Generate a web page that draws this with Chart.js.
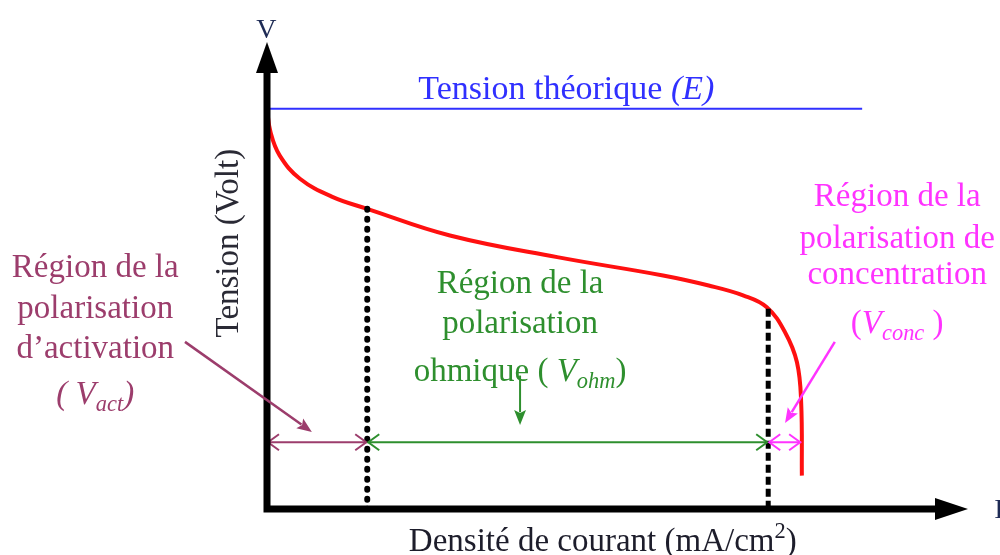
<!DOCTYPE html>
<html><head><meta charset="utf-8">
<script src="https://cdn.jsdelivr.net/npm/chart.js@4.4.1/dist/chart.umd.min.js"></script>
<style>html,body{margin:0;padding:0;background:#fff;}#wrap{width:1000px;height:555px;}</style>
</head><body><div id="wrap"><canvas id="c" width="1000" height="555"></canvas></div>
<script>
// ---- data (current density in arbitrary units, voltage in V) ----
const currentDensity = [0, 0.5, 1.8, 4.7, 9.4, 14.3, 26.1, 41.4, 56.5, 63.0, 68.0, 71.3, 73.9, 75.6, 76.2, 76.3];
const cellVoltage    = [1.20, 1.13, 1.06, 0.99, 0.935, 0.90, 0.82, 0.755, 0.70, 0.67, 0.64, 0.605, 0.53, 0.44, 0.32, 0.10];
const theoreticalVoltage = 1.2;
const theoreticalLineEnd = 84.9;
const regionBoundaries = [0, 14.3, 71.5, 76.2];
const boundaryVoltages = [0.90, 0.60];
const regionArrowLevel = 0.2;
const axisMax = [100, 1.4];

// ---- texts ----
const yAxisSymbol = 'V';
const xAxisSymbol = 'I';
const yAxisTitle = 'Tension (Volt)';
const xAxisTitle = [{t:'Densité de courant (mA/cm'},{t:'2',sup:true},{t:')'}];
const theoryLabel = [{t:'Tension théorique '},{t:'(E)',it:true}];
const actLabel = [[{t:'Région de la'}],[{t:'polarisation'}],[{t:'d’activation'}],[{t:'( ',it:true},{t:'V',it:true},{t:'act',it:true,sub:true},{t:')',it:true}]];
const ohmLabel = [[{t:'Région de la'}],[{t:'polarisation'}],[{t:'ohmique '},{t:'( '},{t:'V',it:true},{t:'ohm',it:true,sub:true},{t:')'}]];
const concLabel = [[{t:'Région de la'}],[{t:'polarisation de'}],[{t:'concentration'}],[{t:'('},{t:'V',it:true},{t:'conc',it:true,sub:true},{t:' )'}]];

const COL = {red:'#ff1010', blue:'#3030ff', act:'#9c3d6c', ohm:'#2e8f2e', conc:'#ff33ff', ink:'#1d1d2b'};
const FONT = '"Liberation Serif", "Times New Roman", serif';
const FS = 33;

function fontFor(s, size){
  const sz = (s.sub||s.sup) ? size*0.68 : size;
  return (s.it?'italic ':'') + sz + 'px ' + FONT;
}
function drawRich(ctx, segs, cx, cy, color, size){
  const w = segs.map(s=>{ctx.font=fontFor(s,size);return ctx.measureText(s.t).width;});
  let x = cx - w.reduce((a,b)=>a+b,0)/2;
  ctx.fillStyle = color; ctx.textBaseline='alphabetic'; ctx.textAlign='left';
  const base = cy + size*0.33;
  segs.forEach((s,i)=>{ctx.font=fontFor(s,size);const dy=s.sub?size*0.22:(s.sup?-size*0.4:0);ctx.fillText(s.t,x,base+dy);x+=w[i];});
}
function arrowLine(ctx,x1,y1,x2,y2,color,w,head){
  ctx.strokeStyle=color;ctx.fillStyle=color;ctx.lineWidth=w;
  const a=Math.atan2(y2-y1,x2-x1);
  ctx.beginPath();ctx.moveTo(x1,y1);ctx.lineTo(x2-Math.cos(a)*head*0.8,y2-Math.sin(a)*head*0.8);ctx.stroke();
  ctx.beginPath();ctx.moveTo(x2,y2);
  ctx.lineTo(x2-head*Math.cos(a-0.38),y2-head*Math.sin(a-0.38));
  ctx.lineTo(x2-head*0.75*Math.cos(a),y2-head*0.75*Math.sin(a));
  ctx.lineTo(x2-head*Math.cos(a+0.38),y2-head*Math.sin(a+0.38));
  ctx.closePath();ctx.fill();
}
function openHead(ctx,x,y,dir,color){
  ctx.strokeStyle=color;ctx.lineWidth=2;
  ctx.beginPath();ctx.moveTo(x+dir*11,y-8);ctx.lineTo(x,y);ctx.lineTo(x+dir*11,y+8);ctx.stroke();
}

const schema = {
  id:'schema',
  afterDatasetsDraw(chart){
    const {ctx, scales:{x,y}} = chart;
    const X=v=>x.getPixelForValue(v), Y=v=>y.getPixelForValue(v);
    ctx.save();
    const cols=[COL.act,COL.ohm,COL.conc];
    for(let k=0;k<3;k++){
      const yy=Y(regionArrowLevel);
      openHead(ctx,X(regionBoundaries[k])+1,yy,1,cols[k]);
      openHead(ctx,X(regionBoundaries[k+1])-1,yy,-1,cols[k]);
    }
    const x0=X(0), y0=Y(0), yTop=Y(axisMax[1]), xEnd=X(axisMax[0]);
    ctx.strokeStyle='#000';ctx.fillStyle='#000';ctx.lineWidth=7;ctx.lineJoin='miter';
    ctx.beginPath();ctx.moveTo(x0,yTop+28);ctx.lineTo(x0,y0);ctx.lineTo(xEnd-30,y0);ctx.stroke();
    ctx.beginPath();ctx.moveTo(x0,yTop);ctx.lineTo(x0-11,yTop+31);ctx.lineTo(x0+11,yTop+31);ctx.closePath();ctx.fill();
    ctx.beginPath();ctx.moveTo(xEnd,y0);ctx.lineTo(xEnd-33,y0-11);ctx.lineTo(xEnd-33,y0+11);ctx.closePath();ctx.fill();
    drawRich(ctx,[{t:yAxisSymbol}],X(-0.1),Y(1.44),'#1e2b55',28);
    drawRich(ctx,[{t:xAxisSymbol}],X(104.4),Y(0.0),'#1e2b55',28);
    drawRich(ctx,xAxisTitle,X(47.9),Y(-0.093),COL.ink,FS);
    ctx.save();ctx.translate(X(-5.7),Y(0.797));ctx.rotate(-Math.PI/2);
    drawRich(ctx,[{t:yAxisTitle}],0,0,'#2a2a35',FS);ctx.restore();
    drawRich(ctx,theoryLabel,X(42.7),Y(1.262),COL.blue,34);
    const actY=[0.728,0.606,0.486,0.348];
    actLabel.forEach((l,i)=>drawRich(ctx,l,X(-24.5),Y(actY[i]),COL.act,FS));
    const ohmY=[0.680,0.561,0.417];
    ohmLabel.forEach((l,i)=>drawRich(ctx,l,X(36.1),Y(ohmY[i]),COL.ohm,FS));
    const concY=[0.941,0.815,0.707,0.561];
    concLabel.forEach((l,i)=>drawRich(ctx,l,X(89.9),Y(concY[i]),COL.conc,FS));
    arrowLine(ctx,X(-11.7),Y(0.501),X(6.4),Y(0.231),COL.act,2.5,16);
    arrowLine(ctx,X(36.1),Y(0.40),X(36.1),Y(0.252),COL.ohm,2,16);
    arrowLine(ctx,X(81.0),Y(0.501),X(73.9),Y(0.258),COL.conc,2.5,16);
    ctx.restore();
  }
};

const curve = currentDensity.map((v,i)=>({x:v,y:cellVoltage[i]}));
const seg = (a,b)=>[{x:a[0],y:a[1]},{x:b[0],y:b[1]}];
const regionCols=[COL.act,COL.ohm,COL.conc];

new Chart(document.getElementById('c'),{
  type:'scatter',
  data:{datasets:[
    {data:seg([0,theoreticalVoltage],[theoreticalLineEnd,theoreticalVoltage]),showLine:true,borderColor:COL.blue,borderWidth:2,pointRadius:0,clip:false},
    {data:seg([regionBoundaries[1],boundaryVoltages[0]],[regionBoundaries[1],0]),showLine:true,borderColor:'#000',borderWidth:6,borderDash:[1,9],borderCapStyle:'round',pointRadius:0,clip:false},
    {data:seg([regionBoundaries[2],boundaryVoltages[1]],[regionBoundaries[2],0]),showLine:true,borderColor:'#000',borderWidth:5,borderDash:[8,4],pointRadius:0,clip:false},
    ...[0,1,2].map(k=>({data:seg([regionBoundaries[k],regionArrowLevel],[regionBoundaries[k+1],regionArrowLevel]),showLine:true,borderColor:regionCols[k],borderWidth:2,pointRadius:0,clip:false})),
    {data:curve,showLine:true,borderColor:COL.red,borderWidth:4,tension:0.4,pointRadius:0,clip:false}
  ]},
  options:{
    responsive:false,animation:false,devicePixelRatio:1,
    layout:{padding:{left:267,right:32,top:42,bottom:46}},
    plugins:{legend:{display:false},tooltip:{enabled:false}},
    scales:{x:{type:'linear',min:0,max:axisMax[0],display:false},y:{type:'linear',min:0,max:axisMax[1],display:false}}
  },
  plugins:[schema]
});
</script></body></html>
